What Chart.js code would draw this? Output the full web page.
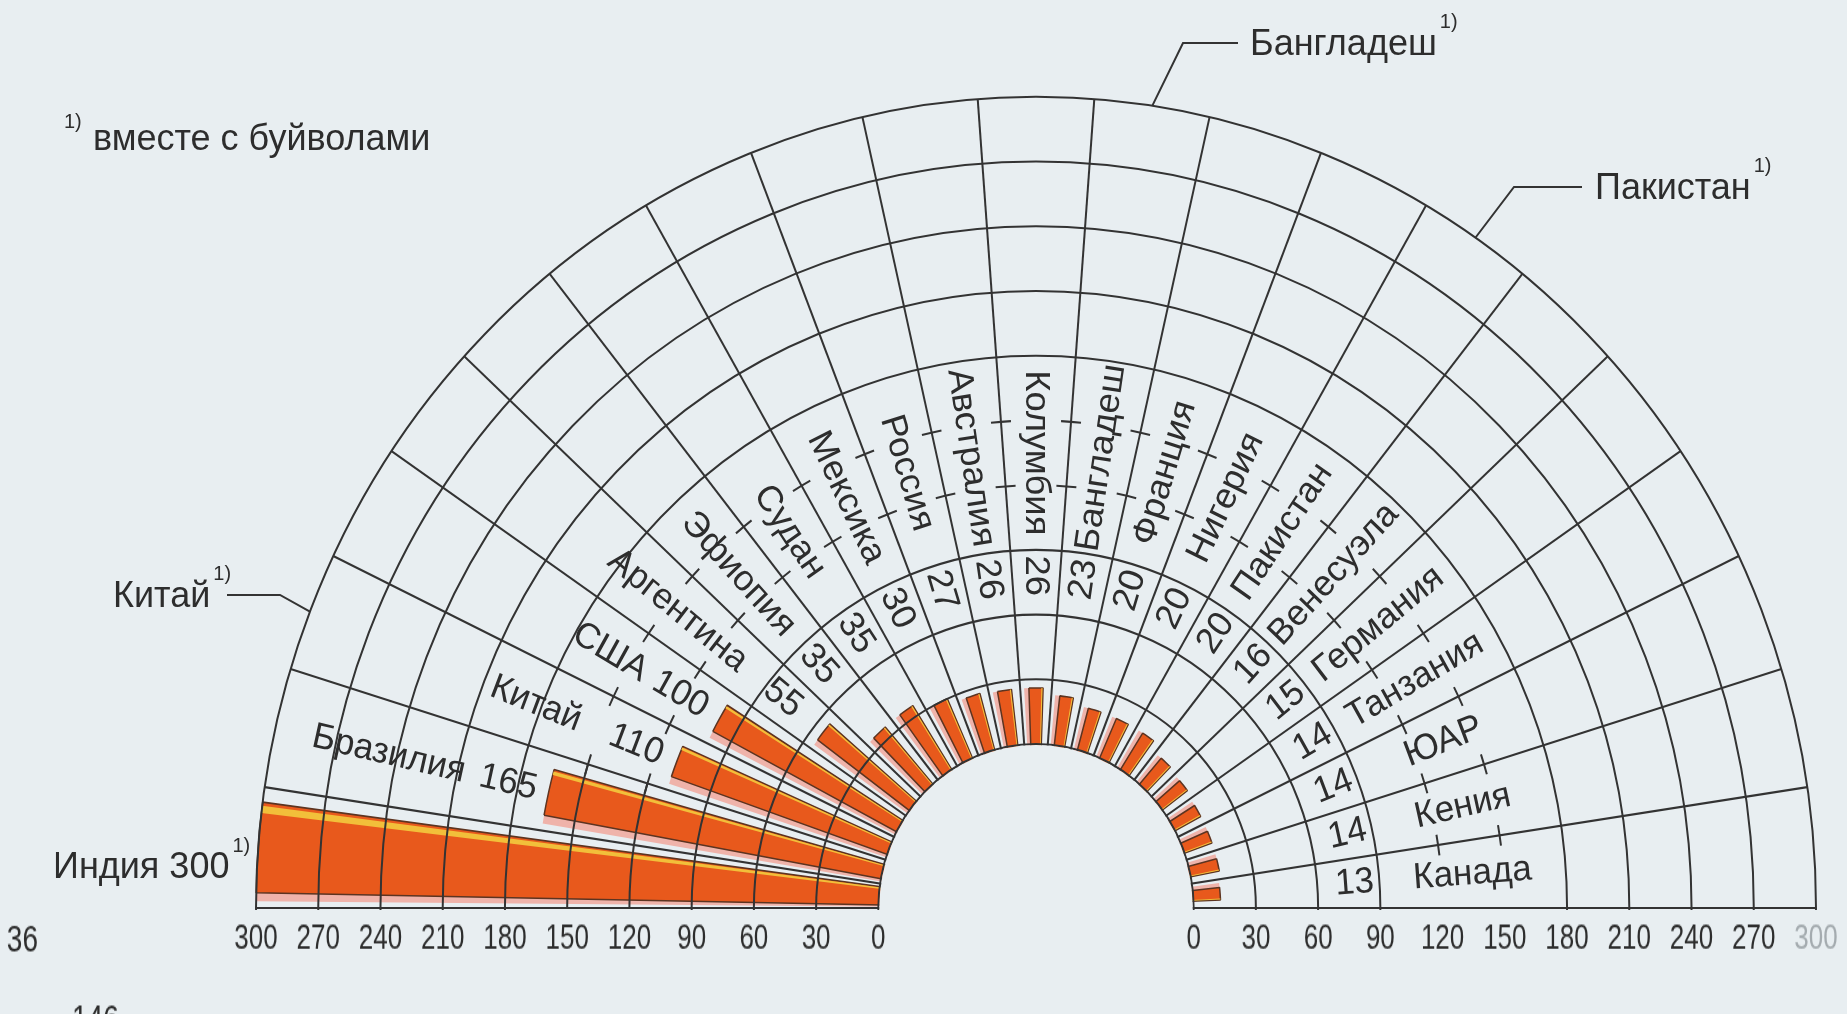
<!DOCTYPE html>
<html lang="ru">
<head>
<meta charset="utf-8">
<title>Поголовье крупного рогатого скота</title>
<script src="https://cdn.jsdelivr.net/npm/chart.js@4.4.1/dist/chart.umd.min.js"></script>
<style>
  html, body { margin: 0; padding: 0; background: #e8eef1; overflow: hidden; }
  #page { position: relative; width: 1847px; height: 1014px; overflow: hidden; }
  #fan { position: absolute; left: 0; top: 0; width: 1847px; height: 910px; overflow: hidden; }
  /* the printed axis digits are narrow and tall */
  #axisChart { position: absolute; left: 0; top: 880px; transform: scaleY(1.35); transform-origin: 0 58px; }
</style>
</head>
<body>
<div id="page">
  <div id="fan"><canvas id="fanChart" width="1847" height="1700"></canvas></div>
  <canvas id="axisChart" width="1847" height="134"></canvas>
</div>
<script>
// head of cattle, mln (read from the printed fan, left to right)
const countries = ["Индия", "Бразилия", "Китай", "США", "Аргентина", "Эфиопия", "Судан",
  "Мексика", "Россия", "Австралия", "Колумбия", "Бангладеш", "Франция", "Нигерия",
  "Пакистан", "Венесуэла", "Германия", "Танзания", "ЮАР", "Кения", "Канада"];
const cattle = [300, 165, 110, 100, 55, 35, 35, 30, 27, 26, 26, 23, 20, 20, 20, 16, 15, 14, 14, 14, 13];
const ringTicks = [0, 30, 60, 90, 120, 150, 180, 210, 240, 270, 300];
const openRings = [120, 150]; // rings left open where the names sit

// layout
const HOLE = 76;          // empty core of the fan, in value units
const STRETCH = 1.04;     // printed fan is a bit taller than wide
const SECTOR = 180 / countries.length;
const DEG = Math.PI / 180;
const INK = "#2d2d2d";
const LINE = "#333";
const PAPER = "#e8eef1";
const BAR = "#e8591c";
const BAR_EDGE = "#5c3421";
const GLINT = "#f2bf3a";
const SHADE = "#efb3aa";
const LABEL_FONT = "35px 'Liberation Sans', Arial, sans-serif";
const NOTE_FONT = "36px 'Liberation Sans', Arial, sans-serif";
const SUP_FONT = "20px 'Liberation Sans', Arial, sans-serif";
const nameAt = countries.map((c, i) => [0, 244, 183, 161, 145][i] || 135);
const valueAt = countries.map((c, i) => [0, 185, 131, 122, 80][i] || 78);

// each country is cut into three slots (gap / bar / gap); the lower half of
// the circle stays empty but is cut the same way so the spokes line up
function slotSet(split) {
  const angles = [], values = [], mark = [];
  countries.forEach((c, i) => {
    const share = 0.42 + 0.33 * cattle[i] / 300;
    const gap = (1 - share) / 2 * SECTOR, bar = share * SECTOR;
    angles.push(...split(gap, bar));
    values.push(0, cattle[i], 0);
    mark.push(false, true, false);
  });
  for (let i = 0; i < countries.length * 3; i++) {
    angles.push(SECTOR / 3);
    values.push(0);
    mark.push(false);
  }
  return { angles, values, mark };
}
const bars = slotSet((g, b) => [g, b, g]);
const shade = slotSet((g, b) => [g * 0.45, b + g * 0.55, g]);
const glint = slotSet((g, b) => [g + b * 0.88, b * 0.08, b * 0.04 + g]);
const slotLabels = bars.values.map((v, i) => bars.mark[i] ? countries[(i - 1) / 3] : "");

function layer(set, fill, edge, width) {
  return {
    data: set.values,
    angle: (c) => set.angles[c.dataIndex],
    backgroundColor: (c) => set.mark[c.dataIndex] ? fill : "rgba(0,0,0,0)",
    borderColor: (c) => set.mark[c.dataIndex] ? edge : "rgba(0,0,0,0)",
    borderWidth: (c) => set.mark[c.dataIndex] ? width : 0
  };
}

const fanDecor = {
  id: "fanDecor",
  beforeDraw(chart) {
    const r = chart.scales.r, ctx = chart.ctx;
    ctx.save();
    ctx.translate(r.xCenter, r.yCenter);
    ctx.scale(1, STRETCH);
    ctx.translate(-r.xCenter, -r.yCenter);
  },
  afterDraw(chart) {
    const r = chart.scales.r, ctx = chart.ctx;
    const cx = r.xCenter, cy = r.yCenter;
    const dist = (v) => r.getDistanceFromCenterForValue(v);
    const mid = (i) => Math.PI + (i + 0.5) * SECTOR * DEG;

    // hollow core
    ctx.fillStyle = PAPER;
    ctx.beginPath();
    ctx.arc(cx, cy, dist(0) - 1, 0, 2 * Math.PI);
    ctx.fill();

    // open rings: full arc across India/Brazil, small crosses on the other spokes
    ctx.strokeStyle = LINE;
    ctx.lineWidth = 2;
    openRings.forEach((v) => {
      const d = dist(v);
      ctx.beginPath();
      ctx.arc(cx, cy, d, Math.PI, Math.PI + 2 * SECTOR * DEG);
      ctx.stroke();
      for (let k = 2; k < countries.length; k++) {
        const a = Math.PI + k * SECTOR * DEG, half = 10 / d;
        ctx.beginPath();
        ctx.arc(cx, cy, d, a - half, a + half);
        ctx.stroke();
      }
    });

    // names and values along the sectors
    ctx.fillStyle = INK;
    ctx.font = LABEL_FONT;
    ctx.textAlign = "center";
    ctx.textBaseline = "middle";
    countries.forEach((name, i) => {
      if (i === 0) return; // India is labelled outside
      const a = mid(i);
      const inward = a <= 1.5 * Math.PI + 1e-6;
      const turn = inward ? a - Math.PI : a;
      [[name, nameAt[i]], [String(cattle[i]), valueAt[i]]].forEach(([txt, at]) => {
        const d = dist(at);
        ctx.save();
        ctx.translate(cx + d * Math.cos(a), cy + d * Math.sin(a));
        ctx.rotate(turn);
        ctx.fillText(txt, 0, 0);
        ctx.restore();
      });
    });
    ctx.restore(); // end of stretch

    // notes outside the fan
    ctx.save();
    ctx.fillStyle = INK;
    ctx.strokeStyle = LINE;
    ctx.lineWidth = 2;
    ctx.textAlign = "left";
    ctx.textBaseline = "alphabetic";
    ctx.font = SUP_FONT;
    ctx.fillText("1)", 64, 128);
    ctx.font = NOTE_FONT;
    ctx.fillText("вместе с буйволами", 93, 150);
    const india = countries[0] + " " + cattle[0];
    ctx.fillText(india, 53, 878);
    const iw = ctx.measureText(india).width;
    ctx.font = SUP_FONT;
    ctx.fillText("1)", 53 + iw + 3, 852);

    const leaders = [
      { i: 2, x: 113, y: 607, from: 227, to: 280 },
      { i: 11, x: 1250, y: 55, from: 1238, to: 1183 },
      { i: 14, x: 1595, y: 199, from: 1582, to: 1514 }
    ];
    leaders.forEach((n) => {
      ctx.font = NOTE_FONT;
      ctx.fillText(countries[n.i], n.x, n.y);
      const w = ctx.measureText(countries[n.i]).width;
      ctx.font = SUP_FONT;
      ctx.fillText("1)", n.x + w + 3, n.y - 27);
      const a = mid(n.i), d = dist(300);
      const ly = n.y - 12;
      ctx.beginPath();
      ctx.moveTo(n.from, ly);
      ctx.lineTo(n.to, ly);
      ctx.lineTo(cx + d * Math.cos(a), cy + d * Math.sin(a) * STRETCH);
      ctx.stroke();
    });
    ctx.restore();
  }
};

new Chart(document.getElementById("fanChart"), {
  type: "polarArea",
  data: {
    labels: slotLabels,
    // first dataset is drawn last, so the glint sits on top of the bar
    datasets: [
      layer(glint, GLINT, "rgba(0,0,0,0)", 0),
      layer(bars, BAR, BAR_EDGE, 1.5),
      layer(shade, SHADE, "rgba(0,0,0,0)", 0)
    ]
  },
  options: {
    responsive: false,
    animation: false,
    devicePixelRatio: 1,
    layout: { padding: { left: 256, right: 31, top: 128, bottom: 12 } },
    plugins: { legend: { display: false }, tooltip: { enabled: false } },
    scales: {
      r: {
        min: -HOLE,
        max: 300,
        startAngle: -90,
        afterBuildTicks: (s) => { s.ticks = ringTicks.map((v) => ({ value: v })); },
        ticks: { display: false },
        pointLabels: { display: false },
        grid: {
          z: 1,
          circular: true,
          color: LINE,
          lineWidth: (c) => (c.tick && openRings.includes(c.tick.value)) ? 0 : 2
        },
        angleLines: {
          display: true,
          color: LINE,
          lineWidth: (c) => (c.index % 3 === 0 && c.index <= countries.length * 3) ? 2 : 0
        }
      }
    }
  },
  plugins: [fanDecor]
});

// horizontal value axis under the fan: 300 … 0 | 0 … 300
const axisTicks = ringTicks.map((v) => -(v + HOLE)).reverse().concat(ringTicks.map((v) => v + HOLE));

const pageMarks = {
  id: "pageMarks",
  afterDraw(chart) {
    const ctx = chart.ctx;
    ctx.save();
    ctx.fillStyle = INK;
    ctx.font = "28px 'Liberation Sans', Arial, sans-serif";
    ctx.textAlign = "right";
    ctx.fillText("36", 38, 68);
    ctx.textAlign = "left";
    ctx.fillText("146", 72, 127);
    ctx.restore();
  }
};

new Chart(document.getElementById("axisChart"), {
  type: "scatter",
  data: { datasets: [{ data: [] }] },
  options: {
    responsive: false,
    animation: false,
    devicePixelRatio: 1,
    layout: { padding: { left: 256, right: 31, top: 0, bottom: 60 } },
    plugins: { legend: { display: false }, tooltip: { enabled: false } },
    scales: {
      x: {
        type: "linear",
        min: -(300 + HOLE),
        max: 300 + HOLE,
        grid: { display: false, drawTicks: false },
        border: { display: false },
        afterBuildTicks: (s) => { s.ticks = axisTicks.map((v) => ({ value: v })); },
        ticks: {
          autoSkip: false,
          maxRotation: 0,
          padding: 0,
          color: (c) => (c.tick && c.tick.value === 300 + HOLE) ? "#a4abaf" : INK,
          font: { family: "'Liberation Sans', Arial, sans-serif", size: 26 },
          callback: (v) => Math.round(Math.abs(v) - HOLE)
        }
      },
      y: { display: false }
    }
  },
  plugins: [pageMarks]
});
</script>
</body>
</html>
